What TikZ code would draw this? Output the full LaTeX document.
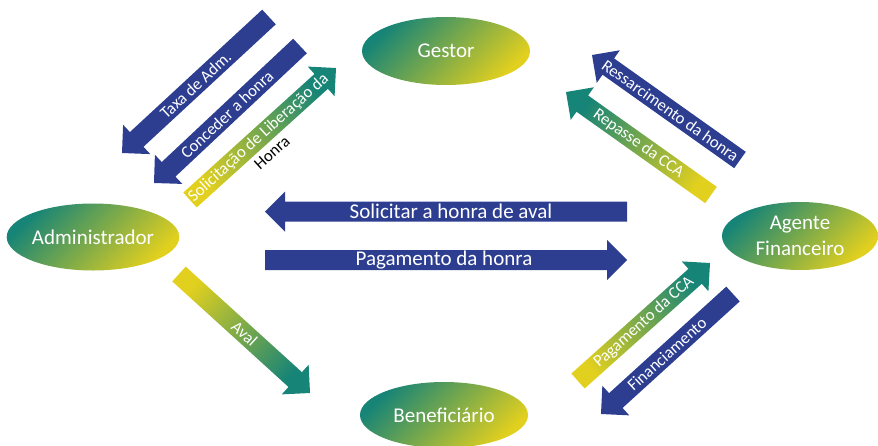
\documentclass[tikz,border=0pt]{standalone}
\usepackage{fontspec}
\setmainfont{Carlito}
\usetikzlibrary{shapes.geometric,calc}
\definecolor{tealc}{RGB}{22,132,118}
\definecolor{yelc}{RGB}{226,208,30}
\definecolor{bluec}{RGB}{45,62,145}
\newcommand\blkarrow[4]{%
  \coordinate (#4-h) at ($(#2)!20pt!(#1)$);
  \path[#3] ($(#1)!10pt!-90:(#2)$) -- ($(#4-h)!10pt!90:(#1)$) -- ($(#4-h)!20pt!90:(#1)$) -- (#2)
     -- ($(#4-h)!20pt!-90:(#1)$) -- ($(#4-h)!10pt!-90:(#1)$) -- ($(#1)!10pt!90:(#2)$) -- cycle;
}
\tikzset{
  actor/.style={ellipse, minimum width=168pt, minimum height=68pt, inner sep=0pt,
    top color=tealc, bottom color=yelc, shading angle=45,
    text=white, font=\fontsize{21}{26}\selectfont, align=center},
  bluefill/.style={fill=bluec},
  gradfill/.style={top color=yelc, bottom color=tealc, shading angle=#1},
  arrowtext/.style={text=white, font=\fontsize{21}{24}\selectfont, inner sep=0pt},
  diagtext/.style={text=white, font=\fontsize{16.7}{20}\selectfont, inner sep=0pt}
}
\begin{document}
\begin{tikzpicture}[x=1pt,y=-1pt]
\useasboundingbox (0,0) rectangle (878,445);
% actors
\node[actor] (gestor) at (446,51) {Gestor};
\node[actor, minimum width=170pt, minimum height=67pt] (adm) at (93,237) {Administrador};
\node[actor, minimum width=156pt] (agente) at (800,236) {Agente\\Financeiro};
\node[actor, minimum height=66pt] (benef) at (444,415) {Beneficiário};
% coordinates
\coordinate (a1t) at (269,17);  \coordinate (a1p) at (122,153);
\coordinate (a2t) at (300,46);  \coordinate (a2p) at (154,183);
\coordinate (a3t) at (190,200); \coordinate (a3p) at (336,68);
\coordinate (a4t) at (740,160); \coordinate (a4p) at (592,55);
\coordinate (a5t) at (711,195); \coordinate (a5p) at (566,92);
\coordinate (a6t) at (578,381); \coordinate (a6p) at (710,263);
\coordinate (a7t) at (733,294); \coordinate (a7p) at (601,414);
\coordinate (a8t) at (179,274); \coordinate (a8p) at (310,393);
\coordinate (a9t) at (627,211.5); \coordinate (a9p) at (265,211.5);
\coordinate (a10t) at (265,260); \coordinate (a10p) at (627,260);
% arrows
\blkarrow{a1t}{a1p}{bluefill}{arr1}
\blkarrow{a2t}{a2p}{bluefill}{arr2}
\blkarrow{a3t}{a3p}{gradfill=132}{arr3}
\blkarrow{a4t}{a4p}{bluefill}{arr4}
\blkarrow{a5t}{a5p}{gradfill=-125}{arr5}
\blkarrow{a6t}{a6p}{gradfill=132}{arr6}
\blkarrow{a7t}{a7p}{bluefill}{arr7}
\blkarrow{a8t}{a8p}{gradfill=48}{arr8}
\blkarrow{a9t}{a9p}{bluefill}{arr9}
\blkarrow{a10t}{a10p}{bluefill}{arr10}
% labels
\path (a1t) -- (a1p) node[midway, sloped, diagtext] (t1) {Taxa de Adm.};
\path (a2t) -- (a2p) node[midway, sloped, diagtext] (t2) {Conceder a honra};
\path (a3t) -- (a3p) node[pos=0.47, sloped, diagtext] (t3) {Solicitação de Liberação da};
\node[diagtext, text=black, rotate=42] (t3b) at ($(t3.center)!20pt!-90:(a3p)$) {Honra};
\path (a4t) -- (a4p) node[pos=0.47, sloped, diagtext] (t4) {Ressarcimento da honra};
\path (a5t) -- (a5p) node[midway, sloped, diagtext] (t5) {Repasse da CCA};
\path (a6t) -- (a6p) node[midway, sloped, diagtext] (t6) {Pagamento da CCA};
\path (a7t) -- (a7p) node[midway, sloped, diagtext] (t7) {Financiamento};
\path (a8t) -- (a8p) node[midway, sloped, diagtext] (t8) {Aval};
\path (a9t) -- (a9p) node[midway, arrowtext, xshift=5pt] (t9) {Solicitar a honra de aval};
\path (a10t) -- (a10p) node[midway, arrowtext, xshift=-2pt] (t10) {Pagamento da honra};
\end{tikzpicture}
\end{document}
